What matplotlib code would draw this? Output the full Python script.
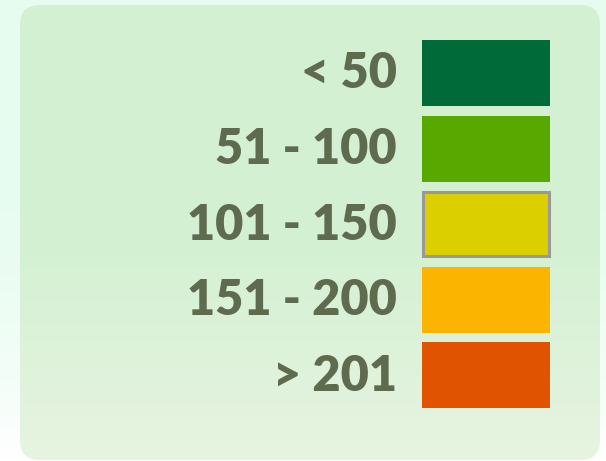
import numpy as np
import matplotlib.pyplot as plt
from matplotlib.patches import FancyBboxPatch, Rectangle

# Legende de l'indice de qualite de l'air
labels = ["< 50", "51 - 100", "101 - 150", "151 - 200", "> 201"]
colors = ["#006a38", "#58a800", "#dccf00", "#fbb400", "#e05300"]
edges = [None, None, "#999999", None, None]

W, H = 606, 461
fig = plt.figure(figsize=(W / 100, H / 100), dpi=100)

# fond : menthe en haut, blanc en bas
bg = fig.add_axes([0, 0, 1, 1])
grad = np.linspace(0, 1, 256).reshape(-1, 1)
top = np.array([0.90, 0.99, 0.94])
bot = np.array([1.0, 1.0, 1.0])
img = top + (bot - top) * grad[..., None] ** 3
bg.imshow(img, extent=[0, W, H, 0], aspect="auto")
bg.set_xlim(0, W)
bg.set_ylim(H, 0)
bg.axis("off")

ax = fig.add_axes([0, 0, 1, 1])
ax.set_xlim(0, W)
ax.set_ylim(H, 0)
ax.axis("off")

# cadre arrondi avec degrade vertical
box = FancyBboxPatch((20, 5), 580, 455, boxstyle="round,pad=0,rounding_size=20",
                     facecolor="none", edgecolor="none")
ax.add_patch(box)
g = np.linspace(0, 1, 256).reshape(-1, 1)
c1 = np.array([0.835, 0.945, 0.830])
c2 = np.array([0.905, 0.955, 0.880])
fill = c1 + (c2 - c1) * np.clip((g - 0.55) / 0.45, 0, 1)[..., None]
im = ax.imshow(fill, extent=[20, 600, 460, 5], aspect="auto", zorder=1)
im.set_clip_path(box)

x0, bw, bh, pitch, y0 = 422, 128, 66, 75.5, 40
for i, (lab, col, ec) in enumerate(zip(labels, colors, edges)):
    y = y0 + i * pitch
    if ec:
        ax.add_patch(Rectangle((x0 + 1, y + 1), bw - 2, bh - 2, facecolor=col,
                               edgecolor=ec, linewidth=2.2, zorder=3))
    else:
        ax.add_patch(Rectangle((x0, y), bw, bh, facecolor=col,
                               edgecolor="none", zorder=3))
    ax.text(397, y + bh / 2 + 1, lab, ha="right", va="center",
            fontsize=35, fontweight="heavy", family="Lato",
            color="#5e6b4f", zorder=4)

fig.savefig("out.png", dpi=100)
